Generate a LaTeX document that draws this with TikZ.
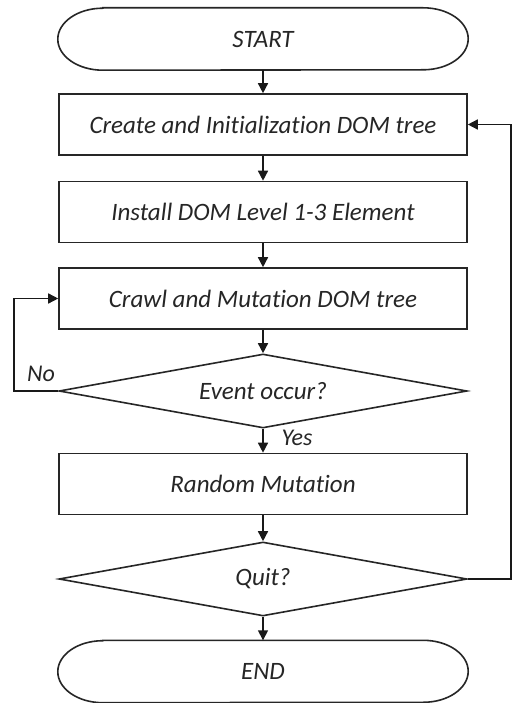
\documentclass[tikz,border=0pt]{standalone}
\usepackage{fontspec}
\setmainfont{Carlito}[Ligatures=NoCommon]
\usetikzlibrary{shapes.geometric,arrows.meta}
\begin{document}
\begin{tikzpicture}[x=1pt,y=1pt,
  every node/.style={font=\fontsize{25}{30}\selectfont\itshape, text=black!85},
  box/.style={draw=black!85, line width=1.6pt, rectangle, minimum width=408pt, minimum height=61pt, inner sep=0pt},
  term/.style={rectangle, minimum width=410pt, minimum height=62pt, inner sep=0pt},
  dec/.style={draw=black!85, line width=1.6pt, diamond, aspect=5.5, minimum width=408pt, minimum height=74pt, inner sep=0pt},
  arr/.style={draw=black!90, line width=1.5pt, -{Triangle[length=10pt,width=10pt]}},
  lab/.style={font=\fontsize{24}{28}\selectfont\itshape, text=black!85},
  termline/.style={draw=black!85, line width=1.6pt}
]
\useasboundingbox[fill=white] (0,0) rectangle (513,-703);

\node[term] (s) at (263,-39) {START};
\node[box] (b1) at (263,-124.5) {Create and Initialization DOM tree};
\node[box] (b2) at (263,-212) {Install DOM Level 1-3 Element};
\node[box] (b3) at (263,-298.5) {Crawl and Mutation DOM tree};
\node[dec] (d1) at (263,-391) {Event occur?};
\node[box] (b4) at (263,-484) {Random Mutation};
\node[dec] (d2) at (263,-579) {Quit?};
\node[term] (e) at (263,-671.5) {END};

\foreach \n in {s,e}{
  \draw[termline] ([xshift=45pt]\n.north west) -- ([xshift=-45pt]\n.north east)
    arc[start angle=90,end angle=-90,x radius=45pt,y radius=31pt]
    -- ([xshift=45pt]\n.south west)
    arc[start angle=270,end angle=90,x radius=45pt,y radius=31pt] -- cycle;
}

\coordinate (lx) at (14,0);
\coordinate (rx) at (511,0);

\draw[arr] (s) -- (b1);
\draw[arr] (b1) -- (b2);
\draw[arr] (b2) -- (b3);
\draw[arr] (b3) -- (d1);
\draw[arr] (d1) -- (b4);
\draw[arr] (b4) -- (d2);
\draw[arr] (d2) -- (e);

\draw[arr] (d1.west) -- (d1.west -| lx) |- (b3.west);
\draw[arr] (d2.east) -- (d2.east -| rx) |- (b1.east);

\node[lab] (no) at (41,-374) {No};
\node[lab] (yes) at (297,-438) {Yes};
\end{tikzpicture}
\end{document}
